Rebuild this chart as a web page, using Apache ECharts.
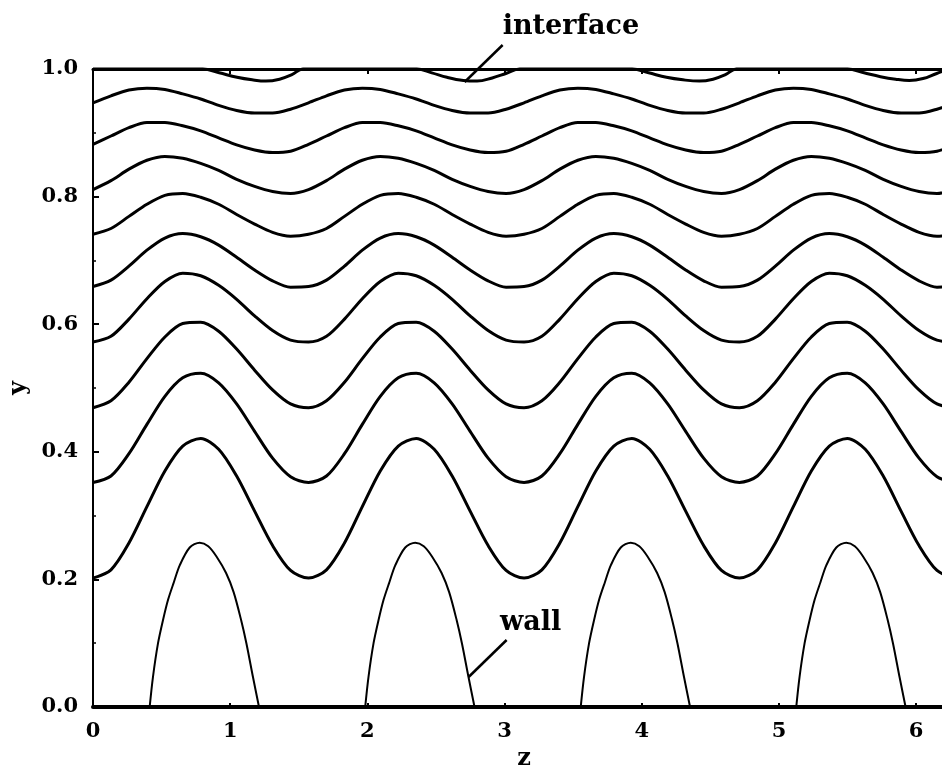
<!DOCTYPE html>
<html>
<head>
<meta charset="utf-8">
<script src="https://cdn.jsdelivr.net/npm/echarts@6/dist/echarts.min.js"></script>
<style>
  html, body { margin: 0; padding: 0; background: #ffffff; }
  #chart { width: 942px; height: 771px; }
</style>
</head>
<body>
<div id="chart"></div>
<script>
// Sampling positions along z (step pi/24 over one wavelength 2*pi)
const zGrid = [
  0.000, 0.131, 0.262, 0.393, 0.524, 0.654, 0.785, 0.916, 1.047, 1.178, 1.309, 1.440,
  1.571, 1.702, 1.833, 1.963, 2.094, 2.225, 2.356, 2.487, 2.618, 2.749, 2.880, 3.011,
  3.142, 3.272, 3.403, 3.534, 3.665, 3.796, 3.927, 4.058, 4.189, 4.320, 4.451, 4.581,
  4.712, 4.843, 4.974, 5.105, 5.236, 5.367, 5.498, 5.629, 5.760, 5.890, 6.021, 6.152,
  6.283
];

// Streamline heights y(z), from the wall side up to the interface
const stream1 = [
  0.202, 0.215, 0.257, 0.314, 0.370, 0.409, 0.421, 0.404, 0.362, 0.307, 0.253, 0.214,
  0.202, 0.215, 0.257, 0.314, 0.370, 0.409, 0.421, 0.404, 0.362, 0.307, 0.253, 0.214,
  0.202, 0.215, 0.257, 0.314, 0.370, 0.409, 0.421, 0.404, 0.362, 0.307, 0.253, 0.214,
  0.202, 0.215, 0.257, 0.314, 0.370, 0.409, 0.421, 0.404, 0.362, 0.307, 0.253, 0.214,
  0.202
];
const stream2 = [
  0.352, 0.362, 0.397, 0.443, 0.487, 0.516, 0.523, 0.508, 0.475, 0.432, 0.390, 0.361,
  0.352, 0.362, 0.397, 0.443, 0.487, 0.516, 0.523, 0.508, 0.475, 0.432, 0.390, 0.361,
  0.352, 0.362, 0.397, 0.443, 0.487, 0.516, 0.523, 0.508, 0.475, 0.432, 0.390, 0.361,
  0.352, 0.362, 0.397, 0.443, 0.487, 0.516, 0.523, 0.508, 0.475, 0.432, 0.390, 0.361,
  0.352
];
const stream3 = [
  0.469, 0.480, 0.509, 0.546, 0.580, 0.601, 0.603, 0.589, 0.561, 0.528, 0.497, 0.475,
  0.469, 0.480, 0.509, 0.546, 0.580, 0.601, 0.603, 0.589, 0.561, 0.528, 0.497, 0.475,
  0.469, 0.480, 0.509, 0.546, 0.580, 0.601, 0.603, 0.589, 0.561, 0.528, 0.497, 0.475,
  0.469, 0.480, 0.509, 0.546, 0.580, 0.601, 0.603, 0.589, 0.561, 0.528, 0.497, 0.475,
  0.469
];
const stream4 = [
  0.572, 0.581, 0.608, 0.640, 0.667, 0.680, 0.676, 0.661, 0.639, 0.613, 0.590, 0.575,
  0.572, 0.581, 0.608, 0.640, 0.667, 0.680, 0.676, 0.661, 0.639, 0.613, 0.590, 0.575,
  0.572, 0.581, 0.608, 0.640, 0.667, 0.680, 0.676, 0.661, 0.639, 0.613, 0.590, 0.575,
  0.572, 0.581, 0.608, 0.640, 0.667, 0.680, 0.676, 0.661, 0.639, 0.613, 0.590, 0.575,
  0.572
];
const stream5 = [
  0.659, 0.669, 0.691, 0.716, 0.735, 0.742, 0.737, 0.724, 0.705, 0.685, 0.668, 0.658,
  0.659, 0.669, 0.691, 0.716, 0.735, 0.742, 0.737, 0.724, 0.705, 0.685, 0.668, 0.658,
  0.659, 0.669, 0.691, 0.716, 0.735, 0.742, 0.737, 0.724, 0.705, 0.685, 0.668, 0.658,
  0.659, 0.669, 0.691, 0.716, 0.735, 0.742, 0.737, 0.724, 0.705, 0.685, 0.668, 0.658,
  0.659
];
const stream6 = [
  0.741, 0.750, 0.769, 0.788, 0.802, 0.805, 0.799, 0.788, 0.772, 0.757, 0.744, 0.738,
  0.741, 0.750, 0.769, 0.788, 0.802, 0.805, 0.799, 0.788, 0.772, 0.757, 0.744, 0.738,
  0.741, 0.750, 0.769, 0.788, 0.802, 0.805, 0.799, 0.788, 0.772, 0.757, 0.744, 0.738,
  0.741, 0.750, 0.769, 0.788, 0.802, 0.805, 0.799, 0.788, 0.772, 0.757, 0.744, 0.738,
  0.741
];
const stream7 = [
  0.811, 0.825, 0.843, 0.857, 0.863, 0.860, 0.852, 0.841, 0.827, 0.816, 0.808, 0.805,
  0.811, 0.825, 0.843, 0.857, 0.863, 0.860, 0.852, 0.841, 0.827, 0.816, 0.808, 0.805,
  0.811, 0.825, 0.843, 0.857, 0.863, 0.860, 0.852, 0.841, 0.827, 0.816, 0.808, 0.805,
  0.811, 0.825, 0.843, 0.857, 0.863, 0.860, 0.852, 0.841, 0.827, 0.816, 0.808, 0.805,
  0.811
];
const stream8 = [
  0.882, 0.895, 0.908, 0.916, 0.916, 0.911, 0.903, 0.892, 0.881, 0.873, 0.869, 0.871,
  0.882, 0.895, 0.908, 0.916, 0.916, 0.911, 0.903, 0.892, 0.881, 0.873, 0.869, 0.871,
  0.882, 0.895, 0.908, 0.916, 0.916, 0.911, 0.903, 0.892, 0.881, 0.873, 0.869, 0.871,
  0.882, 0.895, 0.908, 0.916, 0.916, 0.911, 0.903, 0.892, 0.881, 0.873, 0.869, 0.871,
  0.882
];
const stream9 = [
  0.947, 0.958, 0.967, 0.970, 0.968, 0.961, 0.953, 0.943, 0.935, 0.931, 0.931, 0.937,
  0.947, 0.958, 0.967, 0.970, 0.968, 0.961, 0.953, 0.943, 0.935, 0.931, 0.931, 0.937,
  0.947, 0.958, 0.967, 0.970, 0.968, 0.961, 0.953, 0.943, 0.935, 0.931, 0.931, 0.937,
  0.947, 0.958, 0.967, 0.970, 0.968, 0.961, 0.953, 0.943, 0.935, 0.931, 0.931, 0.937,
  0.947
];

// Interface y = 1 with its shallow dips, as [z, y] pairs
const interfaceLine = [
  [0.00, 1.000], [0.80, 1.000],
  [0.92, 0.994], [1.05, 0.987], [1.16, 0.983], [1.26, 0.981], [1.36, 0.984], [1.45, 0.991], [1.53, 1.000],
  [2.36, 1.000],
  [2.47, 0.994], [2.58, 0.987], [2.70, 0.982], [2.80, 0.981], [2.91, 0.986], [3.01, 0.993], [3.11, 1.000],
  [3.93, 1.000],
  [4.05, 0.994], [4.18, 0.987], [4.30, 0.983], [4.42, 0.981], [4.52, 0.984], [4.61, 0.991], [4.69, 1.000],
  [5.50, 1.000],
  [5.62, 0.994], [5.74, 0.988], [5.85, 0.984], [5.95, 0.982], [6.05, 0.985], [6.15, 0.993], [6.26, 1.000],
  [6.283, 1.000]
];

// Wall bumps, as [z, y] pairs
const wall1 = [
  [0.413, 0], [0.437, 0.047], [0.474, 0.100], [0.510, 0.136], [0.547, 0.168], [0.590, 0.196],
  [0.632, 0.222], [0.705, 0.250], [0.778, 0.2575], [0.840, 0.252], [0.900, 0.236], [0.970, 0.210],
  [1.025, 0.180], [1.080, 0.136], [1.118, 0.100], [1.166, 0.047], [1.210, 0]
];
const wall2 = [
  [1.984, 0], [2.008, 0.047], [2.045, 0.100], [2.081, 0.136], [2.118, 0.168], [2.161, 0.196],
  [2.203, 0.222], [2.276, 0.250], [2.349, 0.2575], [2.411, 0.252], [2.471, 0.236], [2.541, 0.210],
  [2.596, 0.180], [2.651, 0.136], [2.689, 0.100], [2.737, 0.047], [2.781, 0]
];
const wall3 = [
  [3.555, 0], [3.579, 0.047], [3.616, 0.100], [3.652, 0.136], [3.689, 0.168], [3.732, 0.196],
  [3.774, 0.222], [3.847, 0.250], [3.920, 0.2575], [3.982, 0.252], [4.042, 0.236], [4.112, 0.210],
  [4.167, 0.180], [4.222, 0.136], [4.260, 0.100], [4.308, 0.047], [4.352, 0]
];
const wall4 = [
  [5.126, 0], [5.150, 0.047], [5.187, 0.100], [5.223, 0.136], [5.260, 0.168], [5.303, 0.196],
  [5.345, 0.222], [5.418, 0.250], [5.491, 0.2575], [5.553, 0.252], [5.613, 0.236], [5.683, 0.210],
  [5.738, 0.180], [5.793, 0.136], [5.831, 0.100], [5.879, 0.047], [5.923, 0]
];

// Tick labels
const xTickLabels = ['0', '1', '2', '3', '4', '5', '6'];
const yTickLabels = ['0.0', '0.2', '0.4', '0.6', '0.8', '1.0'];

const streams = [stream1, stream2, stream3, stream4, stream5, stream6, stream7, stream8, stream9];
const walls = [wall1, wall2, wall3, wall4];

const INK = '#000000';
const SERIF = '"DejaVu Serif", "Liberation Serif", serif';

const chart = echarts.init(document.getElementById('chart'), null, { renderer: 'canvas' });

const series = [];
streams.forEach(function (s, i) {
  series.push({
    type: 'line',
    name: 'stream' + (i + 1),
    data: zGrid.map(function (z, k) { return [z, s[k]]; }),
    smooth: 0.3,
    showSymbol: false,
    lineStyle: { color: INK, width: 3 },
    silent: true
  });
});
walls.forEach(function (w, i) {
  series.push({
    type: 'line',
    name: 'wall' + (i + 1),
    data: w,
    smooth: 0.3,
    showSymbol: false,
    lineStyle: { color: INK, width: 2 },
    silent: true
  });
});
series.push({
  type: 'line',
  name: 'interface',
  data: interfaceLine,
  smooth: 0.4,
  showSymbol: false,
  clip: false,
  lineStyle: { color: INK, width: 3 },
  silent: true
});

const option = {
  animation: false,
  backgroundColor: '#ffffff',
  grid: {
    left: 93,
    right: -13,
    top: 69,
    bottom: 64,
    containLabel: false,
    outerBoundsMode: 'none'
  },
  xAxis: [
    {
      type: 'value',
      position: 'bottom',
      min: 0,
      max: 6.2832,
      interval: 1,
      name: 'z',
      nameLocation: 'middle',
      nameGap: 36,
      nameTextStyle: { color: INK, fontFamily: SERIF, fontWeight: 'bold', fontSize: 24 },
      axisLine: { show: true, onZero: false, lineStyle: { color: INK, width: 4 } },
      axisTick: { show: true, inside: true, length: 4, lineStyle: { color: INK, width: 2 } },
      axisLabel: {
        show: true,
        margin: 14,
        showMaxLabel: false,
        color: INK,
        fontFamily: SERIF,
        fontWeight: 'bold',
        fontSize: 21,
        formatter: function (v) {
          return Number.isInteger(v) && xTickLabels[v] !== undefined ? xTickLabels[v] : '';
        }
      },
      splitLine: { show: false }
    },
    {
      type: 'value',
      position: 'top',
      min: 0,
      max: 6.2832,
      interval: 1,
      axisLine: { show: true, onZero: false, lineStyle: { color: INK, width: 3 } },
      axisTick: { show: true, inside: true, length: 5, lineStyle: { color: INK, width: 2 } },
      axisLabel: { show: false },
      splitLine: { show: false }
    }
  ],
  yAxis: {
    type: 'value',
    min: 0,
    max: 1,
    interval: 0.2,
    name: 'y',
    nameLocation: 'middle',
    nameRotate: 90,
    nameGap: 55,
    nameTextStyle: { color: INK, fontFamily: SERIF, fontWeight: 'bold', fontSize: 24 },
    axisLine: { show: true, onZero: false, lineStyle: { color: INK, width: 2 } },
    axisTick: { show: true, inside: true, length: 6, lineStyle: { color: INK, width: 2 } },
    minorTick: { show: true, splitNumber: 2, length: 3, lineStyle: { color: INK, width: 1.5 } },
    axisLabel: {
      margin: 15,
      color: INK,
      fontFamily: SERIF,
      fontWeight: 'bold',
      fontSize: 21,
      formatter: function (v) {
        const idx = Math.round(v / 0.2);
        return yTickLabels[idx] !== undefined ? yTickLabels[idx] : '';
      }
    },
    splitLine: { show: false }
  },
  series: series
};

chart.setOption(option);

// Annotations anchored in data coordinates
function toPx(z, y) {
  return chart.convertToPixel({ xAxisIndex: 0, yAxisIndex: 0 }, [z, y]);
}
const ifTip = toPx(2.709, 0.9796), ifEnd = toPx(2.986, 1.0376), ifText = toPx(2.986, 1.066);
const wTip = toPx(2.738, 0.047), wEnd = toPx(3.015, 0.105), wText = toPx(2.966, 0.131);
const labelFont = { fontFamily: SERIF, fontWeight: 'bold', fontSize: 27, fill: INK };

chart.setOption({
  graphic: [
    { type: 'line', shape: { x1: ifTip[0], y1: ifTip[1], x2: ifEnd[0], y2: ifEnd[1] },
      style: { stroke: INK, lineWidth: 2.5 }, silent: true },
    { type: 'text', x: ifText[0], y: ifText[1],
      style: Object.assign({ text: 'interface', align: 'left', verticalAlign: 'middle' }, labelFont), silent: true },
    { type: 'line', shape: { x1: wTip[0], y1: wTip[1], x2: wEnd[0], y2: wEnd[1] },
      style: { stroke: INK, lineWidth: 2.5 }, silent: true },
    { type: 'text', x: wText[0], y: wText[1],
      style: Object.assign({ text: 'wall', align: 'left', verticalAlign: 'middle' }, labelFont), silent: true }
  ]
});
</script>
</body>
</html>
